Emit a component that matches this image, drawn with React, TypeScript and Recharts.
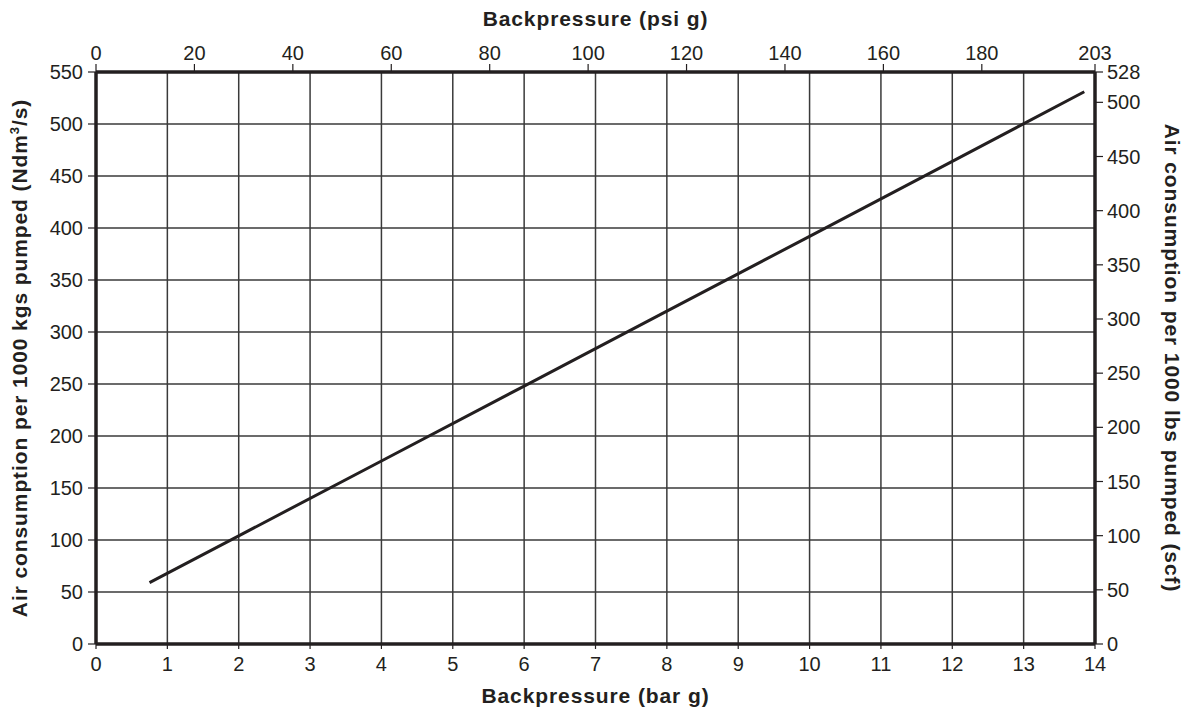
import {
  ComposedChart,
  Line,
  XAxis,
  YAxis,
  CartesianGrid,
  Label,
} from "recharts";

// Backpressure in bar g (bottom axis) vs air consumption in Ndm3/s (left axis)
const barG = [0.75, 2, 4, 6, 8, 10, 12, 13.85];
const airNdm3 = [59, 104, 176, 248, 320, 392, 464, 531];

const barTicks = [0, 1, 2, 3, 4, 5, 6, 7, 8, 9, 10, 11, 12, 13, 14];
const psiTicks = [0, 20, 40, 60, 80, 100, 120, 140, 160, 180, 203];
const ndmTicks = [0, 50, 100, 150, 200, 250, 300, 350, 400, 450, 500, 550];
const scfTicks = [0, 50, 100, 150, 200, 250, 300, 350, 400, 450, 500, 528];

// top axis is just bar g expressed in psi g (14 bar = 203 psi)
const PSI_PER_BAR = 203 / 14;

const data = barG.map((b, i) => ({
  bar: b,
  psi: b * PSI_PER_BAR,
  air: airNdm3[i],
}));

const INK = "#231f20";
const FONT = "'Liberation Sans', Arial, Helvetica, sans-serif";
const tickStyle = { fill: INK, fontSize: 20, fontFamily: FONT };
const axisLine = { stroke: INK, strokeWidth: 3.5 };
const tickLine = { stroke: INK, strokeWidth: 1.2 };
const titleStyle = {
  fill: INK,
  fontSize: 21,
  fontWeight: 700,
  fontFamily: FONT,
  letterSpacing: 0.9,
};

export default function App() {
  return (
    <ComposedChart
      width={1176}
      height={705}
      data={data}
      margin={{ top: 0, right: 0, bottom: 0, left: 0 }}
    >
      <CartesianGrid
        xAxisId="bar"
        yAxisId="ndm"
        stroke="#3a3a3a"
        strokeWidth={1.5}
      />
      <XAxis
        xAxisId="bar"
        dataKey="bar"
        type="number"
        domain={[0, 14]}
        ticks={barTicks}
        orientation="bottom"
        height={69}
        tick={tickStyle}
        tickSize={5}
        tickMargin={8}
        axisLine={axisLine}
        tickLine={tickLine}
        allowDataOverflow
      >
        <Label
          content={({ viewBox }: any) => (
            <text
              x={viewBox.x + viewBox.width / 2}
              y={viewBox.y + 59}
              textAnchor="middle"
              style={titleStyle}
            >
              Backpressure (bar g)
            </text>
          )}
        />
      </XAxis>
      <XAxis
        xAxisId="psi"
        dataKey="psi"
        type="number"
        domain={[0, 203]}
        ticks={psiTicks}
        orientation="top"
        height={64}
        tick={tickStyle}
        tickSize={8}
        tickMargin={4}
        axisLine={axisLine}
        tickLine={tickLine}
        allowDataOverflow
      >
        <Label
          content={({ viewBox }: any) => (
            <text
              x={viewBox.x + viewBox.width / 2}
              y={viewBox.y + 18}
              textAnchor="middle"
              style={titleStyle}
            >
              Backpressure (psi g)
            </text>
          )}
        />
      </XAxis>
      <YAxis
        yAxisId="ndm"
        type="number"
        domain={[0, 550]}
        ticks={ndmTicks}
        orientation="left"
        width={88}
        tick={tickStyle}
        tickSize={8}
        tickMargin={5}
        axisLine={axisLine}
        tickLine={tickLine}
        allowDataOverflow
      >
        <Label
          content={({ viewBox }: any) => {
            const x = viewBox.x + 19;
            const y = viewBox.y + viewBox.height / 2;
            return (
              <text
                x={x}
                y={y}
                textAnchor="middle"
                transform={`rotate(-90, ${x}, ${y})`}
                style={titleStyle}
              >
                Air consumption per 1000 kgs pumped (Ndm
                <tspan fontSize={13} dy={-8}>
                  3
                </tspan>
                <tspan dy={8}>/s)</tspan>
              </text>
            );
          }}
        />
      </YAxis>
      <YAxis
        yAxisId="scf"
        type="number"
        domain={[0, 528]}
        ticks={scfTicks}
        orientation="right"
        width={89}
        tick={tickStyle}
        tickSize={8}
        tickMargin={4}
        axisLine={axisLine}
        tickLine={tickLine}
        allowDataOverflow
      >
        <Label
          content={({ viewBox }: any) => {
            const x = viewBox.x + 70;
            const y = viewBox.y + viewBox.height / 2;
            return (
              <text
                x={x}
                y={y}
                textAnchor="middle"
                transform={`rotate(90, ${x}, ${y})`}
                style={titleStyle}
              >
                Air consumption per 1000 lbs pumped (scf)
              </text>
            );
          }}
        />
      </YAxis>
      <Line
        xAxisId="bar"
        yAxisId="ndm"
        type="linear"
        dataKey="air"
        stroke={INK}
        strokeWidth={3}
        dot={false}
        isAnimationActive={false}
      />
    </ComposedChart>
  );
}
